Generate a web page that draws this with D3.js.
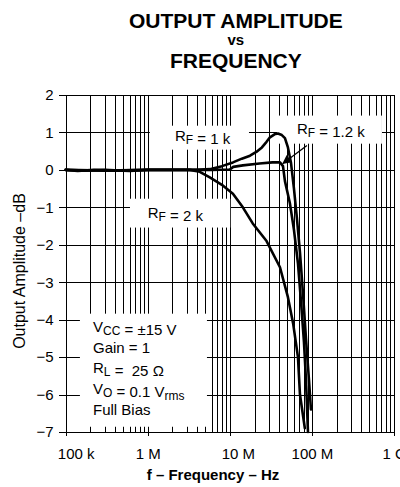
<!DOCTYPE html>
<html>
<head>
<meta charset="utf-8">
<title>Output amplitude vs frequency</title>
<script src="https://d3js.org/d3.v7.min.js"></script>
<style>
  body { margin: 0; background: #fff; }
  svg { display: block; font-family: "Liberation Sans", Arial, sans-serif; }
  .grid line { stroke: #000; stroke-width: 1; shape-rendering: crispEdges; }
  .axis path, .axis line { stroke: #000; shape-rendering: crispEdges; }
  .axis text { font-size: 15px; fill: #000; }
  .curve { fill: none; stroke: #000; stroke-width: 2.6; stroke-linejoin: round; stroke-linecap: round; }
  .note { font-size: 15px; }
</style>
</head>
<body>
<svg width="400" height="487"></svg>
<script>
// axis values
var freqTicks = [1e5, 1e6, 1e7, 1e8, 1e9];
var freqLabels = ["100 k", "1 M", "10 M", "100 M", "1 G"];
var dbTicks = [2, 1, 0, -1, -2, -3, -4, -5, -6, -7];

// R_F = 1 k
var rf1kFreq = [1e5, 1.4e5, 2.2e5, 4e5, 1e6, 2e6, 4e6, 5.7e6, 8e6, 10.9e6, 14e6, 17.6e6, 21e6, 24.6e6, 28e6, 30.8e6, 35e6, 38.5e6, 43e6, 46.9e6, 51e6, 55.5e6, 60.4e6, 65.7e6, 71.5e6, 77.8e6, 84.6e6, 92e6, 97.3e6];
var rf1kDb   = [0, -0.03, 0, -0.02, 0, 0, 0, 0.02, 0.1, 0.2, 0.3, 0.38, 0.48, 0.6, 0.75, 0.87, 0.95, 0.97, 0.93, 0.85, 0.6, 0.2, -0.5, -1.3, -2.2, -3.3, -4.5, -5.6, -6.4];

// R_F = 1.2 k
var rf12kFreq = [1e5, 3e5, 1e6, 3e6, 6e6, 10e6, 11e6, 14.4e6, 23e6, 33e6, 40.8e6, 44.4e6, 46.9e6, 54e6, 60.4e6, 67.6e6, 73.5e6, 80e6, 84.6e6, 89.5e6];
var rf12kDb   = [0, -0.02, 0, 0, 0, 0.01, 0.08, 0.12, 0.17, 0.2, 0.2, 0.1, -0.3, -0.9, -1.6, -2.5, -3.5, -4.6, -5.6, -7.0];

// R_F = 2 k
var rf2kFreq = [1e5, 1.7e5, 3e5, 6e5, 1e6, 2e6, 3.27e6, 4.3e6, 5.7e6, 8e6, 10.9e6, 14.4e6, 19e6, 28e6, 40.8e6, 51e6, 59e6, 67.6e6, 71.5e6, 82e6];
var rf2kDb   = [0, -0.02, 0, -0.03, 0, 0, 0, -0.05, -0.2, -0.4, -0.64, -1.0, -1.43, -1.9, -2.6, -3.4, -4.1, -5.0, -6.0, -6.9];

var margin = { left: 65.7, right: 6, top: 95, bottom: 55 };
var width = 400, height = 487;

var svg = d3.select("svg");

var x = d3.scaleLog()
  .domain([1e5, 1e9])
  .range([margin.left, width - margin.right]);
var y = d3.scaleLinear()
  .domain([-7, 2])
  .range([height - margin.bottom, margin.top]);

// minor + major grid positions
var gridFreqs = [];
freqTicks.slice(0, -1).forEach(function(d) {
  for (var m = 1; m < 10; m++) gridFreqs.push(d * m);
});
gridFreqs.push(1e9);

var grid = svg.append("g").attr("class", "grid");
grid.selectAll(".v").data(gridFreqs).enter().append("line")
  .attr("x1", function(d) { return Math.round(x(d)) + 0.5; })
  .attr("x2", function(d) { return Math.round(x(d)) + 0.5; })
  .attr("y1", y(2)).attr("y2", y(-7));
grid.selectAll(".h").data(dbTicks).enter().append("line")
  .attr("x1", x(1e5)).attr("x2", x(1e9))
  .attr("y1", function(d) { return Math.round(y(d)) + 0.5; })
  .attr("y2", function(d) { return Math.round(y(d)) + 0.5; });

// small inward ticks on the bottom edge (left visible under the note box)
svg.append("g").selectAll("line").data(gridFreqs).enter().append("line")
  .attr("x1", function(d) { return Math.round(x(d)) + 0.5; })
  .attr("x2", function(d) { return Math.round(x(d)) + 0.5; })
  .attr("y1", y(-7)).attr("y2", y(-7) - 6)
  .attr("stroke", "#000");

// white boxes behind the labels, in data units
var boxes = [
  [1.49e5, 5.26e6, -3.84, -6.86],
  [1.06e6, 17.1e6, 1.18, 0.54],
  [6.07e5, 10.1e6, -0.77, -1.54],
  [37.5e6, 713e6, 1.45, 0.70]
];
svg.append("g").selectAll("rect").data(boxes).enter().append("rect")
  .attr("x", function(d) { return x(d[0]); })
  .attr("width", function(d) { return x(d[1]) - x(d[0]); })
  .attr("y", function(d) { return y(d[2]); })
  .attr("height", function(d) { return y(d[3]) - y(d[2]); })
  .attr("fill", "#fff");

// axes
svg.append("g").attr("class", "axis")
  .attr("transform", "translate(" + margin.left + ",0)")
  .call(d3.axisLeft(y).tickValues(dbTicks).tickSize(7).tickPadding(5)
    .tickFormat(function(d) { return d < 0 ? "\u2212" + Math.abs(d) : d; }))
  .call(function(g) { g.select(".domain").attr("d", "M0.5," + y(2) + "V" + y(-7)); });

var xAxis = svg.append("g").attr("class", "axis")
  .attr("transform", "translate(0," + y(-7) + ")")
  .call(d3.axisBottom(x).tickValues(freqTicks).tickSize(4).tickPadding(12)
    .tickFormat(function(d, i) { return freqLabels[i]; }));
xAxis.select(".domain").attr("d", "M" + x(1e5) + ",0.5H" + x(1e9));
xAxis.selectAll(".tick text").attr("dx", function(d, i) { return i === 0 ? 10 : (i === 2 ? 8 : 0); });

// top border
svg.append("line").attr("x1", x(1e5)).attr("x2", x(1e9))
  .attr("y1", y(2) + 0.5).attr("y2", y(2) + 0.5)
  .attr("stroke", "#000").attr("shape-rendering", "crispEdges");

// curves
var line = d3.line()
  .x(function(d) { return x(d[0]); })
  .y(function(d) { return y(d[1]); });
function pairs(f, v) { return f.map(function(d, i) { return [d, v[i]]; }); }

svg.append("path").attr("class", "curve").attr("d", line(pairs(rf2kFreq, rf2kDb)));
svg.append("path").attr("class", "curve").attr("d", line(pairs(rf12kFreq, rf12kDb)));
svg.append("path").attr("class", "curve").attr("d", line(pairs(rf1kFreq, rf1kDb)));

// arrow to the 1.2 k curve
svg.append("defs").append("marker")
  .attr("id", "head").attr("viewBox", "0 0 10 10")
  .attr("refX", 9).attr("refY", 5)
  .attr("markerWidth", 7).attr("markerHeight", 7)
  .attr("orient", "auto")
  .append("path").attr("d", "M0,0L10,5L0,10Z").attr("fill", "#000");
svg.append("line")
  .attr("x1", x(86.9e6)).attr("y1", y(0.65))
  .attr("x2", x(44.3e6)).attr("y2", y(0.17))
  .attr("stroke", "#000").attr("stroke-width", 1.3)
  .attr("marker-end", "url(#head)");

// labels with subscripts: plain strings, or ["sub", text]
function label(fx, db, parts) {
  var t = svg.append("text").attr("class", "note")
    .attr("x", x(fx)).attr("y", y(db));
  parts.forEach(function(p) {
    if (typeof p === "string") {
      t.append("tspan").text(p);
    } else {
      t.append("tspan").attr("font-size", "12px").attr("dy", 3).text(p[1]);
      t.append("tspan").attr("dy", -3).text("");
    }
  });
}
label(2.14e6, 0.78, ["R", ["sub", "F"], " = 1 k"]);
label(1.0e6, -1.28, ["R", ["sub", "F"], " = 2 k"]);
label(65.7e6, 0.97, ["R", ["sub", "F"], " = 1.2 k"]);

label(2.15e5, -4.32, ["V", ["sub", "CC"], " = \u00b115 V"]);
label(2.15e5, -4.88, ["Gain = 1"]);
label(2.15e5, -5.42, ["R", ["sub", "L"], " =\u00a0 25 \u03a9"]);
label(2.15e5, -5.98, ["V", ["sub", "O"], " = 0.1 V", ["sub", "rms"]]);
label(2.15e5, -6.54, ["Full Bias"]);

// titles
var cx = (x(1e5) + x(1e9)) / 2 + 6;
svg.append("text").attr("x", cx).attr("y", 28).attr("text-anchor", "middle")
  .attr("font-weight", "bold").attr("font-size", "21px").text("OUTPUT AMPLITUDE");
svg.append("text").attr("x", cx).attr("y", 45).attr("text-anchor", "middle")
  .attr("font-weight", "bold").attr("font-size", "15px").text("vs");
svg.append("text").attr("x", cx).attr("y", 68).attr("text-anchor", "middle")
  .attr("font-weight", "bold").attr("font-size", "21px").text("FREQUENCY");

svg.append("text")
  .attr("transform", "translate(25," + 271 + ") rotate(-90)")
  .attr("text-anchor", "middle").attr("font-size", "16px")
  .text("Output Amplitude \u2013dB");

svg.append("text").attr("x", 213).attr("y", 480).attr("text-anchor", "middle")
  .attr("font-weight", "bold").attr("font-size", "15px")
  .text("f \u2013 Frequency \u2013 Hz");
</script>
</body>
</html>
